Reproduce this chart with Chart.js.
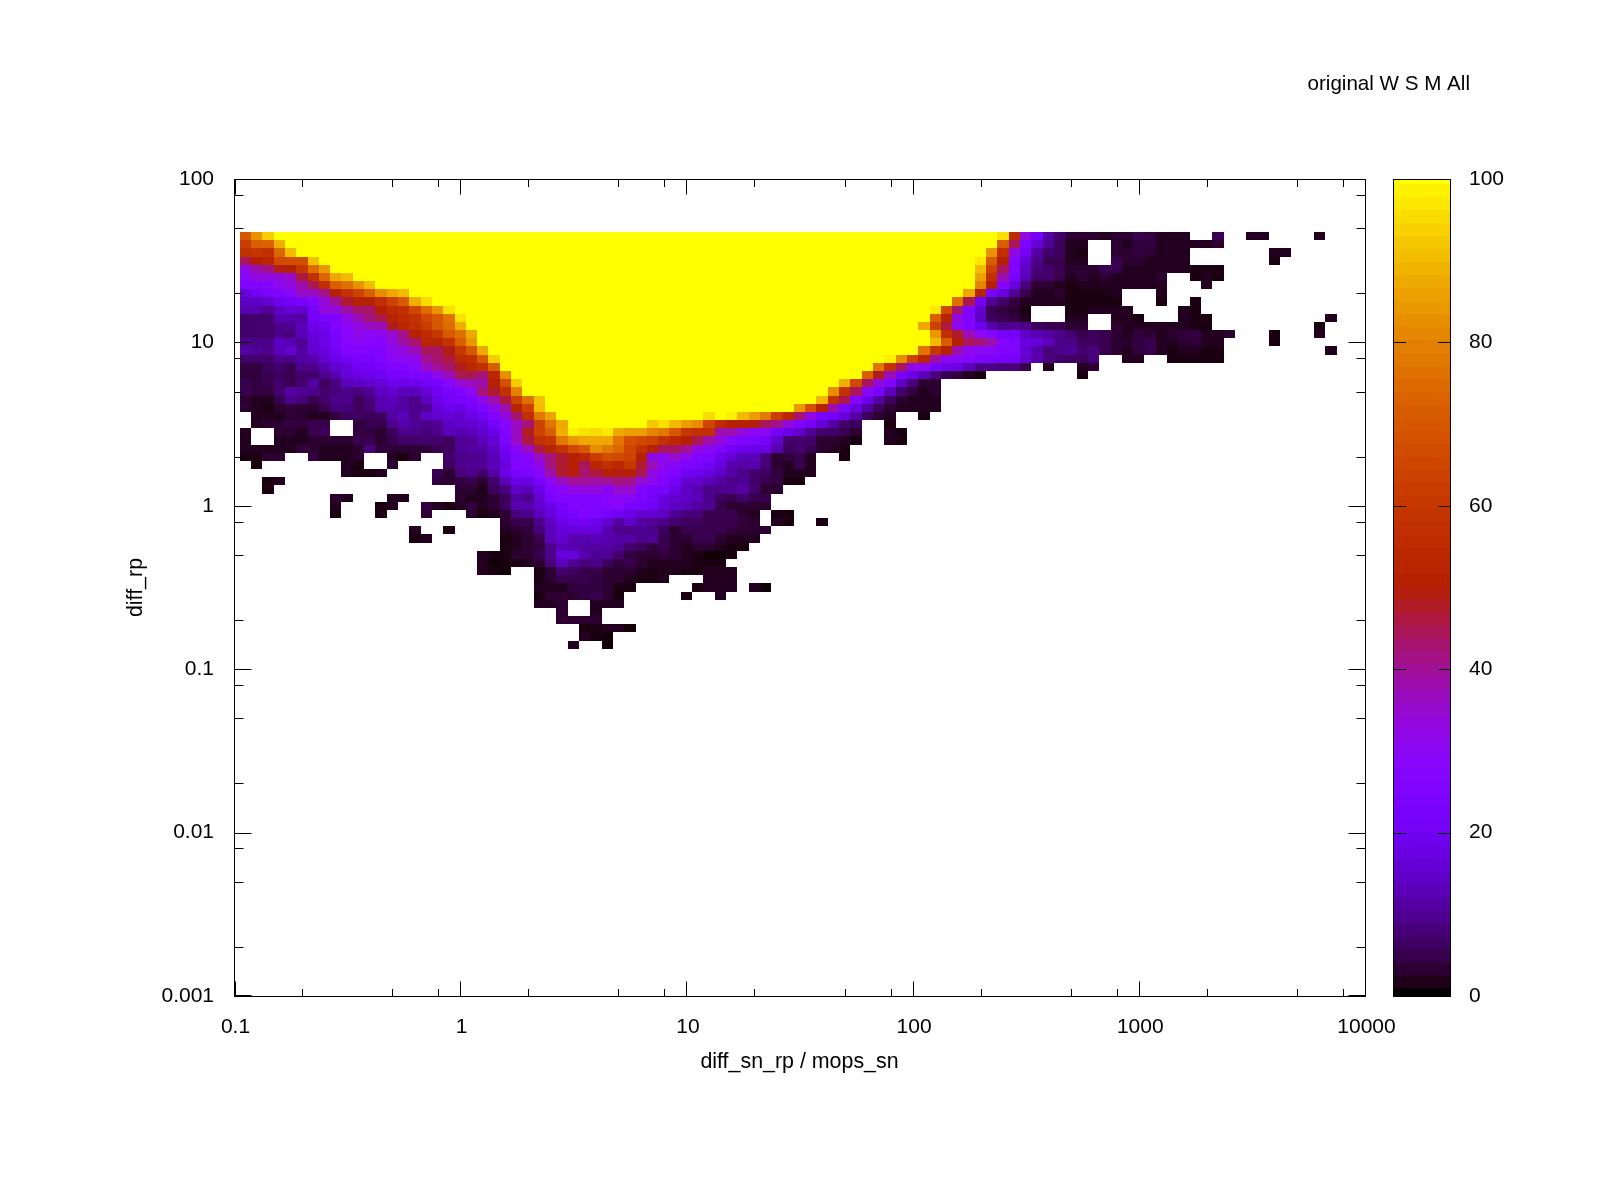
<!DOCTYPE html>
<html><head><meta charset="utf-8">
<script src="https://cdn.jsdelivr.net/npm/chart.js@4/dist/chart.umd.js"></script>
<style>html,body{margin:0;padding:0;background:#fff}canvas{position:absolute;left:0;top:0}</style>
</head><body>
<canvas id="main" width="1600" height="1200"></canvas>
<canvas id="bar" width="1600" height="1200"></canvas>
<script>
const E=n=>Array(n).fill(null), Y=n=>Array(n).fill(100);
const titleText="original W S M All", xTitle="diff_sn_rp / mops_sn", yTitle="diff_rp";
const xTicks=[0.1,0.2,0.5,0.8,1,2,5,8,10,20,50,80,100,200,500,800,1000,2000,5000,8000,10000];
const yTicks=[0.001,0.002,0.005,0.008,0.01,0.02,0.05,0.08,0.1,0.2,0.5,0.8,1,2,5,8,10,20,50,80,100];
const xLabels=[0.1,1,10,100,1000,10000], yLabels=[0.001,0.01,0.1,1,10,100];
const colorbarTicks=[0,20,40,60,80,100];
const row07=[70,83,93,...Y(64),96,55,33,21,11,7,3,3,3,2,3,3,5,4,2,2,2,...E(2),5,...E(2),2,2,...E(4),2];
const row08=[62,72,73,88,...Y(63),72,44,24,16,10,6,2,2,...E(2),3,2,4,4,2,2,2,2,2,3];
const row09=[58,60,57,74,90,...Y(61),83,57,33,21,11,7,6,2,1,...E(2),3,3,4,3,2,2,2,...E(7),2,2];
const row10=[44,50,53,66,67,67,91,...Y(58),97,71,50,25,16,9,5,5,2,2,...E(2),5,3,3,2,2,2,2,...E(7),1];
const row11=[32,38,41,49,50,60,75,84,...Y(57),90,64,44,25,14,8,7,5,3,3,3,5,5,2,2,2,2,2,2,1,1,1];
const row12=[28,33,33,33,35,46,58,74,87,90,...Y(55),86,58,38,23,13,7,7,5,2,3,2,3,2,2,2,2,3,...E(2),1,2,1];
const row13=[25,26,27,31,33,38,45,57,72,76,83,90,...Y(53),80,50,27,17,8,3,3,2,1,2,2,2,2,2,2,2,2,...E(3),2];
const row14=[17,20,23,26,28,36,36,41,51,58,64,72,82,87,90,...Y(49),87,52,23,17,10,5,2,2,3,1,1,1,1,2,...E(3),2];
const row15=[14,14,15,19,21,22,25,34,39,47,51,51,57,64,71,88,95,...Y(46),76,45,21,10,7,4,2,2,2,2,1,1,1,1,1,...E(3),1,...E(2),1];
const row16=[12,12,10,14,16,15,21,33,33,38,43,43,50,55,57,65,75,83,96,...Y(42),97,66,43,25,15,5,4,3,1,...E(3),1,1,2,2,2,2,...E(4),2,1];
const row17=[7,7,7,12,12,11,21,23,26,32,37,42,45,52,55,58,65,70,77,96,...Y(41),72,52,33,25,14,6,5,4,2,...E(3),2,2,...E(2),2,2,1,...E(3),2,1,1,...E(10),2];
const row18=[7,7,7,9,10,13,18,20,25,29,33,36,37,48,53,57,62,70,75,88,...Y(40),87,64,46,31,25,19,12,9,10,9,6,5,5,3,3,...E(2),3,2,2,2,2,2,2,1,1,...E(9),1];
const row19=[7,7,7,9,8,13,16,18,23,28,32,29,31,35,41,51,55,60,71,76,87,...Y(40),84,57,47,37,30,27,22,21,14,12,11,9,7,5,6,5,3,2,4,3,2,3,4,4,2,2,3,...E(3),1,...E(3),2];
const row20=[9,9,9,14,12,10,16,18,22,27,29,27,27,33,39,43,53,53,58,72,84,...Y(40),90,71,50,44,42,38,27,24,17,16,13,9,9,6,6,5,3,3,4,5,2,2,3,4,2,2,...E(4),1];
const row21=[11,10,9,13,15,11,15,17,21,25,25,25,26,31,33,37,44,44,49,60,70,87,...Y(38),77,60,51,38,31,30,29,26,25,16,12,8,9,10,7,8,5,3,2,4,5,2,1,2,2,1,1,...E(9),2];
const row22=[7,7,7,9,9,11,12,15,18,20,23,23,25,29,30,31,40,43,46,55,57,70,93,...Y(34),98,82,64,53,39,30,29,27,24,23,22,21,15,12,8,7,6,6,8,...E(2),2,2,...E(2),1,1,1,1,1];
const row23=[4,4,6,7,5,9,9,12,15,17,20,21,23,25,26,28,36,40,43,48,54,58,72,...Y(33),77,58,44,32,30,22,19,18,13,9,9,8,8,5,null,2,...E(2),2,3];
const row24=[4,4,5,6,5,7,7,9,12,16,18,19,20,22,23,24,25,31,37,45,45,42,54,82,...Y(31),72,48,37,23,18,13,8,5,4,2,1,...E(8),1];
const row25=[5,4,5,7,5,7,11,6,8,13,14,15,16,19,18,19,21,23,27,34,37,38,50,68,93,...Y(28),88,66,44,33,25,14,8,3,3];
const row26=[5,4,4,7,11,10,9,7,8,9,8,10,14,15,13,13,16,20,22,25,30,42,47,58,80,...Y(27),82,58,44,29,23,13,7,4,2,3];
const row27=[3,2,2,5,9,8,5,7,9,9,6,8,12,13,11,9,13,18,21,23,24,32,38,46,64,76,91,...Y(24),89,58,45,27,18,11,6,3,2,2,2];
const row28=[3,2,1,3,4,3,3,5,8,8,6,7,12,12,11,9,10,16,19,18,21,24,31,38,52,64,90,...Y(22),84,68,51,38,24,17,11,6,3,2,2,2,2];
const row29=[null,2,2,2,3,3,2,2,4,6,6,6,6,11,13,9,14,15,16,15,18,20,25,33,43,57,78,86,...Y(13),95,100,98,90,85,78,62,53,43,33,23,21,17,11,6,3,2,...E(2),1];
const row30=[null,2,3,3,4,4,5,5,...E(2),4,5,5,9,12,10,9,10,14,15,15,17,22,27,36,42,64,77,87,...Y(7),92,96,90,85,82,65,55,50,50,49,44,41,33,25,21,16,11,7,6,...E(2),1];
const row31=[2,...E(2),3,3,2,5,6,...E(2),4,4,3,6,9,9,8,9,13,12,13,15,18,25,36,48,64,72,88,98,96,95,97,87,85,85,80,78,70,60,58,57,38,38,33,30,30,21,18,15,10,7,7,5,3,...E(2),2,1];
const row32=[2,...E(2),2,2,2,3,3,3,3,5,5,3,5,7,7,7,7,6,10,10,13,16,24,36,46,58,60,78,84,87,87,87,77,68,66,64,58,54,50,45,39,33,27,24,24,22,15,7,7,7,3,3,2,1,...E(2),2,1];
const row33=[2,2,2,2,2,4,3,2,2,2,3,8,4,3,3,3,4,5,6,10,11,11,14,20,28,36,46,52,58,65,70,82,78,74,65,58,51,44,44,40,33,29,25,20,19,18,18,12,6,7,5,3,2,1];
const row34=[1,1,3,3,...E(2),4,2,2,2,3,...E(2),2,1,3,...E(2),7,9,9,10,13,18,25,27,36,42,47,50,54,62,67,66,64,51,31,31,35,31,26,24,19,16,13,13,8,3,4,5,2,...E(2),1];
const row35=[null,1,...E(7),2,1,...E(2),3,...E(4),6,9,10,10,13,17,25,26,32,42,47,50,44,53,57,54,60,47,37,31,28,24,24,20,17,12,11,12,8,3,2,5,2];
const row36=[...E(9),2,1,1,2,...E(4),5,3,8,9,7,11,18,23,24,28,38,47,49,43,46,50,49,50,45,33,28,25,21,19,17,14,11,9,7,6,4,2,2,2];
const row37=[...E(2),1,2,...E(13),4,3,4,5,3,7,13,18,18,22,30,36,40,40,39,40,42,41,34,31,26,21,15,15,13,11,9,10,7,5,4,1,1];
const row38=[...E(2),1,...E(16),3,3,2,6,8,14,13,18,25,29,32,33,33,28,35,35,25,23,23,18,14,12,9,9,10,11,7,3,3];
const row39=[...E(8),3,2,...E(3),2,2,...E(4),3,2,2,3,6,11,9,16,23,26,25,25,25,28,29,28,24,22,17,15,14,13,9,6,5,7,5,5];
const row40=[...E(8),2,...E(3),1,2,...E(2),4,2,1,2,4,2,3,6,12,12,15,18,22,25,25,25,27,28,23,23,20,16,14,13,11,10,5,3,3,3,3];
const row41=[...E(8),1,...E(3),1,...E(3),3,...E(3),3,1,2,3,8,9,13,17,21,23,25,24,22,20,18,15,15,14,10,8,8,5,5,5,3,2,null,1,1];
const row42=[...E(23),3,5,5,9,14,18,20,21,19,15,11,14,11,10,9,7,6,6,5,5,5,4,3,null,2,1,...E(2),1];
const row43=[...E(15),2,...E(2),1,...E(4),2,3,4,8,13,16,17,17,17,12,9,9,10,9,6,3,5,5,5,5,4,3,3,3];
const row44=[...E(15),1,2,...E(6),1,2,3,5,13,15,12,12,13,12,11,11,9,10,5,3,3,5,5,3,2,2,2];
const row45=[...E(23),1,2,3,4,9,13,12,11,11,11,10,7,6,4,5,3,2,3,3,2,1,1];
const row46=[...E(21),2,1,1,3,3,5,9,17,17,12,10,10,7,4,3,3,4,3,2,1,0.5,0.5,1];
const row47=[...E(21),2,0.5,1,1,2,3,8,13,10,8,9,6,4,5,3,2,2,2,2,1,1,1];
const row48=[...E(21),2,1,0.5,...E(2),1,3,7,6,5,5,3,3,3,2,1,2,2,1,1,2,2,2];
const row49=[...E(26),1,3,5,5,5,4,3,3,2,1,1,2,...E(3),2,2,2];
const row50=[...E(26),2,2,2,4,4,4,3,1,1,...E(5),1,2,2,2,null,2,0.5];
const row51=[...E(26),1,3,3,3,4,5,3,1,...E(5),1,...E(2),2];
const row52=[...E(26),2,2,3,...E(2),2,2,2];
const row53=[...E(28),3,...E(2),2];
const row54=[...E(28),3,3,3,3];
const row55=[...E(30),1,1,2,2,0.5];
const row56=[...E(30),2,1,0.5];
const row57=[...E(29),2,...E(2),0.5];
const heatRows=[row07,row08,row09,row10,row11,row12,row13,row14,row15,row16,row17,row18,row19,row20,row21,row22,row23,row24,row25,row26,row27,row28,row29,row30,row31,row32,row33,row34,row35,row36,row37,row38,row39,row40,row41,row42,row43,row44,row45,row46,row47,row48,row49,row50,row51,row52,row53,row54,row55,row56,row57];
const firstRow=7, binsPerDecade=20, levels=64;

const L=234,R=1365,T=179,B=996,BL=1393,BR=1450;
const FONT="'Liberation Sans', Arial, sans-serif";
function palette(v){const x=v/100;
  const r=Math.sqrt(x),g=x*x*x,b=Math.max(0,Math.sin(2*Math.PI*x));
  return `rgb(${Math.round(r*255)},${Math.round(g*255)},${Math.round(b*255)})`;}

const cellW=(R-L)/(5*binsPerDecade), cellH=(B-T)/(5*binsPerDecade);
class CellElement extends Chart.PointElement{
  static id='cell';
  static defaults={...Chart.PointElement.defaults};
  draw(ctx){
    const l=Math.round(this.x-cellW/2),r=Math.round(this.x+cellW/2),t=Math.round(this.y-cellH/2),b=Math.round(this.y+cellH/2);
    ctx.fillStyle=this.options.backgroundColor;ctx.fillRect(l,t,r-l,b-t);
  }
}
class HeatController extends Chart.ScatterController{
  static id='heat';
  static defaults={...Chart.ScatterController.defaults,dataElementType:'cell'};
}
Chart.register(HeatController,CellElement);

const heatPoints=[];
heatRows.forEach((row,rj)=>row.forEach((v,ci)=>{
  if(v===null)return;
  heatPoints.push({x:0.1*Math.pow(10,(ci+1)/binsPerDecade),y:Math.pow(10,2-(rj+firstRow)/binsPerDecade),v});
}));

const line=(c,x1,y1,x2,y2)=>{c.beginPath();c.moveTo(x1,y1);c.lineTo(x2,y2);c.stroke();};
const framePlugin={id:'frame',afterDraw(chart){
  const c=chart.ctx,a=chart.chartArea,sx=chart.scales.x,sy=chart.scales.y;
  const l=a.left+.5,r=a.right+.5,t=a.top+.5,b=a.bottom+.5;
  c.save();c.strokeStyle='#000';c.lineWidth=1;c.strokeRect(l,t,r-l,b-t);
  xTicks.forEach(v=>{const major=xLabels.includes(v),len=major?15:7.5;
    let p=Math.round(sx.getPixelForValue(v))+.5; if(v===xTicks[0])p+=1;
    line(c,p,b,p,b-len);line(c,p,t,p,t+len);});
  yTicks.forEach(v=>{const major=yLabels.includes(v),len=major?17:9;
    let p=Math.round(sy.getPixelForValue(v))+.5; if(v===yTicks[0])p-=1;
    line(c,l,p,l+len,p);line(c,r,p,r-len,p);});
  c.restore();
}};

new Chart(document.getElementById('main'),{
  type:'heat',
  data:{datasets:[{data:heatPoints,backgroundColor:ctx=>palette(ctx.raw?ctx.raw.v:0),pointRadius:0,hoverRadius:0,borderWidth:0}]},
  plugins:[framePlugin],
  options:{responsive:false,devicePixelRatio:1,animation:false,
    layout:{padding:{left:0,top:0,right:130,bottom:0}},
    plugins:{legend:{display:false},tooltip:{enabled:false},
      title:{display:true,text:titleText,align:'end',color:'#000',font:{family:FONT,size:20.6,weight:'normal'},padding:{top:72,bottom:82.28}}},
    scales:{
      x:{type:'logarithmic',position:'bottom',min:0.1,max:10000,grid:{display:false},border:{display:false},
        afterBuildTicks:s=>{s.ticks=xTicks.map(v=>({value:v,major:xLabels.includes(v)}));},
        afterFit:s=>{s.height=1200-B;},
        ticks:{autoSkip:false,maxRotation:0,minRotation:0,padding:11,labelOffset:1.5,color:'#000',font:{family:FONT,size:21},callback:v=>xLabels.includes(v)?String(v):''},
        title:{display:true,text:xTitle,color:'#000',font:{family:FONT,size:21.4},padding:{top:0,bottom:125}}},
      y:{type:'logarithmic',position:'left',min:0.001,max:100,grid:{display:false},border:{display:false},
        afterBuildTicks:s=>{s.ticks=yTicks.map(v=>({value:v,major:yLabels.includes(v)}));},
        afterFit:s=>{s.width=L;},
        ticks:{autoSkip:false,maxRotation:0,minRotation:0,padding:12,color:'#000',font:{family:FONT,size:21},callback:v=>yLabels.includes(v)?String(v):''},
        title:{display:true,text:yTitle,color:'#000',font:{family:FONT,size:21.4},padding:{top:123,bottom:0}}},
      yGap:{type:'linear',position:'right',min:0,max:1,display:true,grid:{display:false},border:{display:false},ticks:{display:false},afterFit:s=>{s.width=1600-130-R;}}
    }}
});

const bandValues=Array.from({length:levels},(_,k)=>k*100/(levels-1));
const barPlugin={id:'barFrame',afterDraw(chart){
  const c=chart.ctx,a=chart.chartArea,sy=chart.scales.y;
  const l=a.left+.5,r=a.right+.5,t=a.top+.5,b=a.bottom+.5;
  c.save();c.strokeStyle='#000';c.lineWidth=1;
  colorbarTicks.forEach(v=>{const p=Math.round(sy.getPixelForValue(v))+.5;line(c,l,p,l+12.5,p);line(c,r,p,r-12.5,p);});
  c.strokeRect(l,t,r-l,b-t);c.restore();
}};
new Chart(document.getElementById('bar'),{
  type:'bar',
  data:{labels:[''],datasets:bandValues.map(v=>({data:[[Math.max(0,v-50/(levels-1)),Math.min(100,v+50/(levels-1)+0.1)]],backgroundColor:palette(v),grouped:false,barPercentage:1,categoryPercentage:1,borderWidth:0}))},
  plugins:[barPlugin],
  options:{responsive:false,devicePixelRatio:1,animation:false,
    layout:{padding:{left:BL,top:T,right:0,bottom:1200-B}},
    plugins:{legend:{display:false},tooltip:{enabled:false},title:{display:false}},
    scales:{
      x:{display:false},
      y:{position:'right',min:0,max:100,grid:{display:false},border:{display:false},afterFit:s=>{s.width=1600-BR;},
        afterBuildTicks:s=>{s.ticks=colorbarTicks.map(v=>({value:v}));},
        ticks:{padding:11,color:'#000',font:{family:FONT,size:21},callback:v=>String(v)}}
    }}
});
</script>
</body></html>
